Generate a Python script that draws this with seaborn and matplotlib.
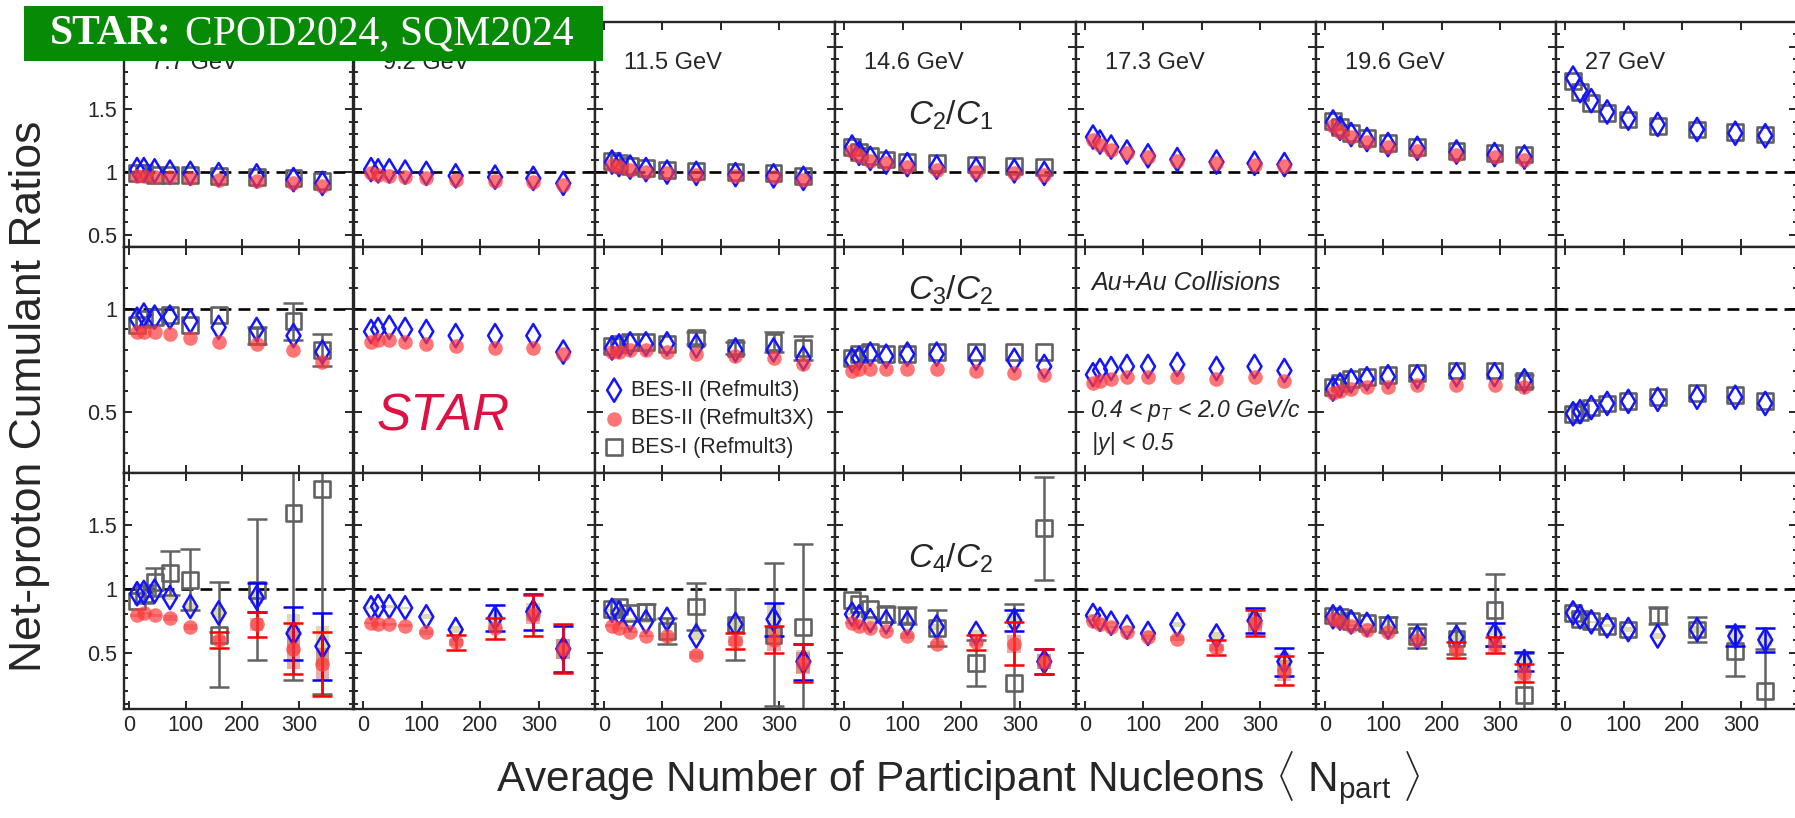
import numpy as np
import pandas as pd
import matplotlib
matplotlib.use("Agg")
import matplotlib.pyplot as plt
import seaborn as sns
from matplotlib.patches import Rectangle
from matplotlib.ticker import MultipleLocator, FuncFormatter

# ---------------- data ----------------
ENERGIES = ["7.7", "9.2", "11.5", "14.6", "17.3", "19.6", "27"]
NPART = [14, 26, 45, 72, 108, 158, 225, 290, 341]

# C2/C1
C21_RM3 = {
    "7.7":  [1.02, 1.02, 1.01, 1.00, 0.99, 0.98, 0.97, 0.94, 0.91],
    "9.2":  [1.02, 1.01, 1.01, 1.00, 0.99, 0.97, 0.96, 0.95, 0.91],
    "11.5": [1.08, 1.06, 1.04, 1.02, 1.00, 0.99, 0.98, 0.97, 0.95],
    "14.6": [1.20, 1.15, 1.11, 1.08, 1.06, 1.04, 1.02, 1.01, 0.99],
    "17.3": [1.28, 1.24, 1.20, 1.16, 1.13, 1.10, 1.08, 1.07, 1.06],
    "19.6": [1.40, 1.35, 1.30, 1.26, 1.22, 1.19, 1.16, 1.14, 1.12],
    "27":   [1.75, 1.65, 1.57, 1.48, 1.43, 1.38, 1.34, 1.31, 1.29],
}
C21_RM3X = {
    "7.7":  [0.97, 0.97, 0.96, 0.96, 0.95, 0.94, 0.93, 0.91, 0.89],
    "9.2":  [0.99, 0.98, 0.97, 0.96, 0.95, 0.94, 0.93, 0.92, 0.90],
    "11.5": [1.06, 1.04, 1.02, 1.00, 0.99, 0.98, 0.97, 0.96, 0.94],
    "14.6": [1.17, 1.13, 1.09, 1.07, 1.04, 1.02, 1.00, 0.99, 0.98],
    "17.3": [1.26, 1.22, 1.18, 1.15, 1.12, 1.09, 1.07, 1.06, 1.05],
    "19.6": [1.37, 1.32, 1.28, 1.24, 1.20, 1.17, 1.14, 1.12, 1.10],
}
C21_BES1 = {
    "7.7":  [0.99, 0.99, 0.98, 0.98, 0.98, 0.97, 0.96, 0.95, 0.93],
    "11.5": [1.09, 1.07, 1.05, 1.03, 1.02, 1.01, 1.00, 0.99, 0.97],
    "14.6": [1.20, 1.16, 1.13, 1.10, 1.08, 1.07, 1.06, 1.05, 1.04],
    "19.6": [1.41, 1.36, 1.31, 1.27, 1.23, 1.20, 1.17, 1.15, 1.14],
    "27":   [1.73, 1.64, 1.55, 1.47, 1.42, 1.37, 1.34, 1.32, 1.30],
}

# C3/C2
C32_RM3 = {
    "7.7":  [0.95, 0.97, 0.96, 0.96, 0.94, 0.91, 0.90, 0.87, 0.79],
    "9.2":  [0.89, 0.90, 0.91, 0.90, 0.89, 0.87, 0.87, 0.87, 0.79],
    "11.5": [0.81, 0.82, 0.83, 0.83, 0.83, 0.82, 0.80, 0.80, 0.76],
    "14.6": [0.75, 0.76, 0.78, 0.77, 0.78, 0.78, 0.76, 0.75, 0.72],
    "17.3": [0.68, 0.70, 0.71, 0.72, 0.72, 0.73, 0.71, 0.72, 0.70],
    "19.6": [0.61, 0.63, 0.65, 0.66, 0.67, 0.67, 0.68, 0.68, 0.65],
    "27":   [0.49, 0.50, 0.52, 0.54, 0.55, 0.56, 0.57, 0.57, 0.54],
}
C32_RM3X = {
    "7.7":  [0.89, 0.89, 0.89, 0.88, 0.86, 0.84, 0.83, 0.80, 0.74],
    "9.2":  [0.84, 0.85, 0.85, 0.84, 0.83, 0.82, 0.81, 0.81, 0.78],
    "11.5": [0.79, 0.79, 0.80, 0.80, 0.79, 0.78, 0.77, 0.76, 0.73],
    "14.6": [0.70, 0.71, 0.71, 0.71, 0.71, 0.71, 0.70, 0.69, 0.68],
    "17.3": [0.64, 0.65, 0.66, 0.67, 0.67, 0.67, 0.66, 0.67, 0.65],
    "19.6": [0.59, 0.60, 0.61, 0.62, 0.62, 0.63, 0.63, 0.63, 0.62],
}
C32_BES1 = {
    "7.7":  [0.92, 0.95, 0.96, 0.97, 0.92, 0.97, 0.87, 0.94, 0.80],
    "11.5": [0.82, 0.83, 0.84, 0.84, 0.83, 0.86, 0.81, 0.84, 0.81],
    "14.6": [0.76, 0.78, 0.79, 0.78, 0.78, 0.79, 0.79, 0.79, 0.79],
    "19.6": [0.62, 0.64, 0.66, 0.67, 0.68, 0.69, 0.70, 0.70, 0.65],
    "27":   [0.49, 0.50, 0.52, 0.54, 0.55, 0.57, 0.59, 0.58, 0.55],
}
C32_BES1_ERR = {
    "7.7":  [0.01, 0.02, 0.02, 0.02, 0.02, 0.02, 0.04, 0.09, 0.08],
    "11.5": [0.01, 0.01, 0.02, 0.02, 0.02, 0.03, 0.03, 0.05, 0.06],
    "14.6": [0.01, 0.01, 0.01, 0.01, 0.01, 0.02, 0.02, 0.02, 0.02],
    "19.6": [0.01, 0.01, 0.01, 0.01, 0.01, 0.02, 0.02, 0.02, 0.03],
    "27":   [0.01, 0.01, 0.01, 0.01, 0.01, 0.01, 0.02, 0.02, 0.02],
}

# C4/C2
C42_RM3 = {
    "7.7":  [0.96, 0.97, 0.98, 0.93, 0.86, 0.81, 0.93, 0.65, 0.55],
    "9.2":  [0.85, 0.86, 0.86, 0.85, 0.78, 0.68, 0.77, 0.82, 0.53],
    "11.5": [0.83, 0.81, 0.76, 0.74, 0.76, 0.63, 0.72, 0.76, 0.43],
    "14.6": [0.80, 0.78, 0.75, 0.74, 0.73, 0.70, 0.65, 0.75, 0.43],
    "17.3": [0.79, 0.76, 0.73, 0.70, 0.65, 0.72, 0.63, 0.75, 0.43],
    "19.6": [0.78, 0.77, 0.74, 0.72, 0.70, 0.62, 0.62, 0.64, 0.43],
    "27":   [0.81, 0.78, 0.74, 0.71, 0.68, 0.63, 0.68, 0.63, 0.60],
}
C42_RM3_ERR = {
    "7.7":  [0.02, 0.03, 0.03, 0.04, 0.05, 0.05, 0.11, 0.205, 0.26],
    "9.2":  [0.02, 0.02, 0.03, 0.03, 0.04, 0.05, 0.10, 0.14, 0.18],
    "11.5": [0.02, 0.02, 0.03, 0.03, 0.04, 0.05, 0.05, 0.13, 0.14],
    "14.6": [0.02, 0.03, 0.03, 0.03, 0.04, 0.05, 0.05, 0.08, 0.10],
    "17.3": [0.02, 0.02, 0.03, 0.03, 0.04, 0.05, 0.05, 0.10, 0.11],
    "19.6": [0.02, 0.02, 0.03, 0.03, 0.04, 0.05, 0.05, 0.09, 0.075],
    "27":   [0.02, 0.02, 0.03, 0.03, 0.04, 0.05, 0.05, 0.075, 0.095],
}
C42_RM3_SYS = {
    "7.7":  [0.01, 0.01, 0.01, 0.02, 0.03, 0.04, 0.05, 0.15, 0.155],
    "9.2":  [0.01, 0.01, 0.01, 0.01, 0.02, 0.03, 0.04, 0.07, 0.08],
    "11.5": [0.01, 0.01, 0.01, 0.01, 0.02, 0.03, 0.04, 0.12, 0.09],
    "14.6": [0.01, 0.01, 0.01, 0.01, 0.02, 0.02, 0.03, 0.06, 0.06],
    "17.3": [0.01, 0.01, 0.01, 0.01, 0.02, 0.02, 0.03, 0.08, 0.07],
    "19.6": [0.01, 0.01, 0.01, 0.01, 0.02, 0.02, 0.03, 0.065, 0.065],
    "27":   [0.01, 0.01, 0.01, 0.01, 0.02, 0.02, 0.03, 0.05, 0.045],
}
C42_RM3X = {
    "7.7":  [0.79, 0.81, 0.79, 0.77, 0.70, 0.60, 0.72, 0.53, 0.41],
    "9.2":  [0.73, 0.72, 0.72, 0.71, 0.66, 0.58, 0.69, 0.79, 0.53],
    "11.5": [0.71, 0.69, 0.66, 0.63, 0.63, 0.48, 0.59, 0.60, 0.42],
    "14.6": [0.73, 0.71, 0.69, 0.67, 0.63, 0.57, 0.58, 0.57, 0.43],
    "17.3": [0.75, 0.72, 0.70, 0.66, 0.62, 0.61, 0.54, 0.73, 0.36],
    "19.6": [0.76, 0.74, 0.71, 0.68, 0.66, 0.60, 0.52, 0.56, 0.34],
}
C42_RM3X_ERR = {
    "7.7":  [0.02, 0.02, 0.03, 0.03, 0.04, 0.065, 0.10, 0.20, 0.25],
    "9.2":  [0.02, 0.02, 0.02, 0.03, 0.03, 0.06, 0.08, 0.16, 0.19],
    "11.5": [0.02, 0.02, 0.02, 0.03, 0.04, 0.05, 0.06, 0.105, 0.15],
    "14.6": [0.02, 0.02, 0.03, 0.03, 0.04, 0.04, 0.06, 0.17, 0.10],
    "17.3": [0.02, 0.02, 0.02, 0.03, 0.03, 0.04, 0.06, 0.10, 0.11],
    "19.6": [0.02, 0.02, 0.02, 0.03, 0.03, 0.04, 0.06, 0.065, 0.07],
}
C42_RM3X_SYS = {
    "7.7":  [0.01, 0.01, 0.01, 0.02, 0.02, 0.03, 0.05, 0.16, 0.13],
    "9.2":  [0.01, 0.01, 0.01, 0.01, 0.02, 0.03, 0.04, 0.07, 0.08],
    "11.5": [0.01, 0.01, 0.01, 0.01, 0.02, 0.03, 0.04, 0.085, 0.085],
    "14.6": [0.01, 0.01, 0.01, 0.01, 0.02, 0.02, 0.03, 0.07, 0.06],
    "17.3": [0.01, 0.01, 0.01, 0.01, 0.02, 0.02, 0.03, 0.08, 0.08],
    "19.6": [0.01, 0.01, 0.01, 0.01, 0.02, 0.02, 0.03, 0.06, 0.07],
}
C42_BES1 = {
    "7.7":  [0.90, 0.96, 1.05, 1.12, 1.07, 0.64, 0.99, 1.59, 1.78],
    "11.5": [0.84, 0.86, 0.81, 0.82, 0.67, 0.86, 0.72, 0.64, 0.70],
    "14.6": [0.91, 0.88, 0.84, 0.80, 0.79, 0.69, 0.42, 0.26, 1.47],
    "19.6": [0.79, 0.78, 0.75, 0.73, 0.72, 0.63, 0.61, 0.83, 0.17],
    "27":   [0.81, 0.76, 0.75, 0.71, 0.68, 0.79, 0.68, 0.51, 0.20],
}
C42_BES1_ERR = {
    "7.7":  [0.04, 0.07, 0.11, 0.17, 0.24, 0.41, 0.55, 1.30, 1.60],
    "11.5": [0.03, 0.04, 0.05, 0.06, 0.10, 0.18, 0.28, 0.56, 0.65],
    "14.6": [0.03, 0.04, 0.05, 0.06, 0.07, 0.14, 0.18, 0.62, 0.40],
    "19.6": [0.03, 0.03, 0.04, 0.05, 0.06, 0.09, 0.12, 0.28, 0.33],
    "27":   [0.03, 0.03, 0.04, 0.04, 0.05, 0.07, 0.10, 0.19, 0.33],
}

RATIOS = ["C21", "C32", "C42"]
DATASETS = ["BES-I (Refmult3)", "BES-II (Refmult3)", "BES-II (Refmult3X)"]


def add_rows(rows, ratio, dataset, vals, errs=None, syss=None):
    for en, v in vals.items():
        e = errs.get(en) if errs else None
        s = syss.get(en) if syss else None
        for i, x in enumerate(NPART):
            rows.append(dict(ratio=ratio, dataset=dataset, energy=en, npart=x,
                             value=v[i],
                             err=e[i] if e else np.nan,
                             sys=s[i] if s else np.nan))


rows = []
add_rows(rows, "C21", DATASETS[0], C21_BES1)
add_rows(rows, "C21", DATASETS[1], C21_RM3)
add_rows(rows, "C21", DATASETS[2], C21_RM3X)
add_rows(rows, "C32", DATASETS[0], C32_BES1, C32_BES1_ERR)
add_rows(rows, "C32", DATASETS[1], C32_RM3)
add_rows(rows, "C32", DATASETS[2], C32_RM3X)
add_rows(rows, "C42", DATASETS[0], C42_BES1, C42_BES1_ERR)
add_rows(rows, "C42", DATASETS[1], C42_RM3, C42_RM3_ERR, C42_RM3_SYS)
add_rows(rows, "C42", DATASETS[2], C42_RM3X, C42_RM3X_ERR, C42_RM3X_SYS)
df = pd.DataFrame(rows)

# ---------------- style ----------------
sns.set_style("ticks")
plt.rcParams["font.family"] = ["Liberation Sans", "DejaVu Sans"]
plt.rcParams["mathtext.fontset"] = "custom"
plt.rcParams["mathtext.rm"] = "Liberation Sans"
plt.rcParams["mathtext.it"] = "Liberation Sans:italic"
plt.rcParams["mathtext.bf"] = "Liberation Sans:bold"

BLUE = "#1414ff"
RED = "#ff3a3a"
GRAY = "#626262"

MARK = {
    DATASETS[0]: dict(marker="s", s=130, facecolor="none", edgecolor=GRAY,
                      linewidth=1.9, zorder=3),
    DATASETS[1]: dict(marker="d", s=140, facecolor="none", edgecolor=BLUE,
                      linewidth=1.8, zorder=4),
    DATASETS[2]: dict(marker="o", s=110, color=RED, alpha=0.7, linewidth=0,
                      zorder=5),
}
ECOL = {DATASETS[0]: GRAY, DATASETS[1]: "#0000ff", DATASETS[2]: "#ff0000"}
EZ = {DATASETS[0]: 2.5, DATASETS[1]: 3.5, DATASETS[2]: 4.5}
SYSCOL = {DATASETS[1]: ("#d6d09a", 0.8), DATASETS[2]: ("#c23040", 0.4)}
ERR_MIN = [0.05, 0.025, 0.055]

W, H = 1795, 818
COL_LEFT = [124, 354, 595, 835, 1076, 1316, 1556]
COL_W = [229, 241, 240, 241, 240, 240, 241]
ROW_TOP = [21.7, 247.3, 473.3]
ROW_H = [225.6, 226.0, 235.7]
YLIMS = [(0.4, 2.2), (0.2, 1.3), (0.06, 1.9)]

fig = plt.figure(figsize=(W / 100, H / 100), dpi=100)

handles = {}
for r, ratio in enumerate(RATIOS):
    for c, en in enumerate(ENERGIES):
        ax = fig.add_axes([COL_LEFT[c] / W, 1 - (ROW_TOP[r] + ROW_H[r]) / H,
                           COL_W[c] / W, ROW_H[r] / H])
        sub = df[(df.ratio == ratio) & (df.energy == en)]
        ax.axhline(1.0, color="black", lw=1.9, ls=(0, (4.5, 2.7)), zorder=1.5)
        for ds in DATASETS:
            d = sub[sub.dataset == ds]
            if d.empty:
                continue
            if ds in SYSCOL and d["sys"].notna().any():
                col, al = SYSCOL[ds]
                ax.bar(d.npart, 2 * d["sys"], bottom=d.value - d["sys"], width=24,
                       color=col, alpha=al, linewidth=0, zorder=2)
            de = d[d.err > ERR_MIN[r]]
            if not de.empty:
                ax.errorbar(de.npart, de.value, yerr=de.err, fmt="none",
                            ecolor=ECOL[ds], elinewidth=1.8, capsize=7.5,
                            capthick=1.8, zorder=EZ[ds])
            sns.scatterplot(data=d, x="npart", y="value", ax=ax, legend=False,
                            **MARK[ds])
            if r == 1 and c == 2:
                handles[ds] = ax.collections[-1]
        ax.set_xlabel("")
        ax.set_ylabel("")
        ax.set_xlim(-9 if c == 0 else -15, 395)
        ax.set_ylim(*YLIMS[r])
        ax.xaxis.set_major_locator(MultipleLocator(100))
        ax.yaxis.set_major_locator(MultipleLocator(0.5))
        ax.yaxis.set_minor_locator(MultipleLocator(0.1))
        ax.yaxis.set_major_formatter(FuncFormatter(lambda v, p: f"{v:g}"))
        ax.tick_params(which="both", direction="in", top=True, right=True,
                       width=1.4, labelsize=15.5)
        ax.tick_params(which="major", length=6)
        ax.tick_params(which="minor", length=3)
        ax.tick_params(axis="y", pad=5)
        ax.tick_params(axis="x", pad=4)
        if c != 0:
            ax.tick_params(labelleft=False)
        if r != 2:
            ax.tick_params(labelbottom=False)
        for sp in ax.spines.values():
            sp.set_linewidth(1.7)

        if r == 0:
            ax.text(0.12, 0.817, f"{en} GeV", transform=ax.transAxes,
                    fontsize=17, va="center", ha="left")
        if c == 3:
            lab = {0: r"$\mathit{C_{2}/C_{1}}$", 1: r"$\mathit{C_{3}/C_{2}}$",
                   2: r"$\mathit{C_{4}/C_{2}}$"}[r]
            ypos = {0: 0.586, 1: 0.81, 2: 0.64}[r]
            ax.text(0.48, ypos, lab, transform=ax.transAxes, fontsize=24,
                    ha="center", va="center")
        if r == 1 and c == 4:
            ax.text(0.065, 0.84, "Au+Au Collisions", transform=ax.transAxes,
                    fontsize=18, style="italic", va="center")
            ax.text(0.06, 0.28, r"0.4 < $p_T$ < 2.0 GeV/c",
                    transform=ax.transAxes, fontsize=16.5, style="italic",
                    va="center")
            ax.text(0.065, 0.133, "|y| < 0.5", transform=ax.transAxes,
                    fontsize=16.5, style="italic", va="center")
        if r == 1 and c == 1:
            ax.text(0.094, 0.25, "STAR", transform=ax.transAxes, fontsize=37,
                    style="italic", color="#dd1144", va="center")

legax = fig.axes[1 * 7 + 2]
order = [DATASETS[1], DATASETS[2], DATASETS[0]]
legax.legend([handles[k] for k in order], order, loc="lower left",
             bbox_to_anchor=(-0.01, 0.03), frameon=False, fontsize=15.5,
             handletextpad=0.2, labelspacing=0.35, borderaxespad=0.2,
             handlelength=1.2, borderpad=0.2)

fig.text(30 / W, 1 - 396 / H, "Net-proton Cumulant Ratios", rotation=90,
         fontsize=32, ha="center", va="center")
fig.text(958 / W, 1 - 778 / H,
         r"Average Number of Participant Nucleons $\langle$ N$_{\mathrm{part}}$ $\rangle$",
         fontsize=30.5, ha="center", va="center")

# conference banner
fig.patches.append(Rectangle((24 / W, 1 - 61 / H), 579 / W, 55 / H,
                             transform=fig.transFigure, facecolor="#078b07",
                             edgecolor="none", zorder=10))
fig.text(50 / W, 1 - 34 / H, "STAR:", fontsize=30, color="white",
         family="Liberation Serif", weight="bold", va="center", zorder=11)
fig.text(185 / W, 1 - 34 / H, "CPOD2024, SQM2024", fontsize=30, color="white",
         family="Liberation Serif", va="center", zorder=11)

fig.savefig("out.png", dpi=100)
